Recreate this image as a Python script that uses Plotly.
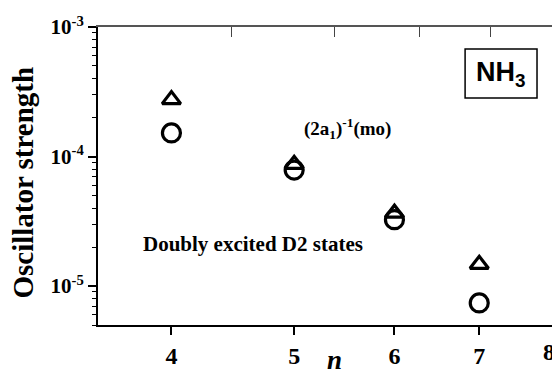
import numpy as np
import plotly.graph_objects as go

# ---- data ----
n_values = [4, 5, 6, 7]
f_triangle = [2.75e-4, 8.7e-5, 3.65e-5, 1.47e-5]
f_circle = [1.52e-4, 7.85e-5, 3.25e-5, 7.4e-6]

x_ticks = [4, 5, 6, 7]
x_ticktext = ["4", "5", "6", "7"]
x_edge_label = "8"  # tick label cut by the right edge in the reference
top_ticks = [4.46, 5.38, 6.28, 7.14]
y_ticks = [1e-5, 1e-4, 1e-3]
y_ticktext = ["10<sup>-5</sup>", "10<sup>-4</sup>", "10<sup>-3</sup>"]
y_minor = [m * d for d in (1e-6, 1e-5, 1e-4) for m in range(2, 10)]

SERIF = "Liberation Serif"
W, H = 552, 376
OFF = 0  # page body margin is removed below
# plot area in page pixels: left 97.5, top 27, bottom 325, right at the window edge
ML, MT = 97.5 - OFF, 27 - OFF
MB = H - (325 - OFF)
MR = 0

x_range = [np.log10(3.5), np.log10(7.99)]
y_range = [np.log10(5e-6), -3]

fig = go.Figure()
fig.add_trace(go.Scatter(
    x=n_values, y=f_triangle, mode="markers",
    marker=dict(symbol="triangle-up-open", size=16, color="black",
                line=dict(width=3.2, color="black")),
    showlegend=False, cliponaxis=False))
fig.add_trace(go.Scatter(
    x=n_values, y=f_circle, mode="markers",
    marker=dict(symbol="circle-open", size=18, color="black",
                line=dict(width=3.2, color="black")),
    showlegend=False, cliponaxis=False))
# invisible trace to anchor the top axis
fig.add_trace(go.Scatter(x=[n_values[0]], y=[f_circle[0]], xaxis="x2",
                         mode="markers", marker=dict(opacity=0),
                         showlegend=False, hoverinfo="skip"))

fig.update_layout(
    width=W, height=H,
    margin=dict(l=ML, r=MR, t=MT, b=MB, pad=0, autoexpand=False),
    paper_bgcolor="white", plot_bgcolor="white",
    xaxis=dict(type="log", range=x_range, tickvals=x_ticks, ticktext=x_ticktext,
               ticks="outside", ticklen=8, tickwidth=1.5, tickcolor="black",
               showline=True, linecolor="black", linewidth=2,
               showgrid=False, zeroline=False, automargin=False,
               tickfont=dict(family=SERIF, size=24, color="black", weight="bold")),
    xaxis2=dict(type="log", range=x_range, overlaying="x", side="top",
                tickvals=top_ticks, showticklabels=False,
                ticks="inside", ticklen=10, tickwidth=1.2, tickcolor="#444",
                showline=True, linecolor="#555", linewidth=1.5,
                showgrid=False, zeroline=False, automargin=False),
    yaxis=dict(type="log", range=y_range, tickvals=y_ticks, ticktext=y_ticktext,
               ticks="outside", ticklen=8, tickwidth=1.5, tickcolor="black",
               minor=dict(tickvals=y_minor, ticks="outside", ticklen=4,
                          tickwidth=1.2, tickcolor="black", showgrid=False),
               showline=True, linecolor="black", linewidth=2,
               showgrid=False, zeroline=False, automargin=False,
               tickfont=dict(family=SERIF, size=21, color="black", weight="bold")),
)

pw = W - ML - MR
ph = H - MT - MB
def px(x):  # page pixel -> paper
    return (x - OFF - ML) / pw
def py(y):
    return 1 - (y - OFF - MT) / ph

def label(text, x, y, size, family=SERIF, angle=0):
    fig.add_annotation(text=text, xref="paper", yref="paper", x=px(x), y=py(y),
                       xanchor="center", yanchor="middle", textangle=angle,
                       showarrow=False,
                       font=dict(family=family, size=size, color="black"))

# axis titles
label("<b>Oscillator strength</b>", 22, 183, 29, angle=-90)
label("<b><i>n</i></b>", 334, 360, 27)
# tick label at the right edge (partly cut in the reference)
label("<b>%s</b>" % x_edge_label, 549, 352, 24)

# labels
label("<b>(2a<sub>1</sub>)<sup>-1</sup>(mo)</b>", 347, 128, 19)
label("<b>Doubly excited D2 states</b>", 253, 244, 21)

# NH3 box
fig.add_shape(type="rect", xref="paper", yref="paper",
              x0=px(465), x1=px(537), y0=py(98), y1=py(49),
              line=dict(color="black", width=1.5), fillcolor="rgba(0,0,0,0)")
label("<b>NH<sub>3</sub></b>", 501, 74, 27, family="Liberation Sans")

fig.write_html("out.html",
               config={"displayModeBar": False},
               post_script="document.body.style.margin='0';"
                           "document.body.style.overflow='hidden';")
